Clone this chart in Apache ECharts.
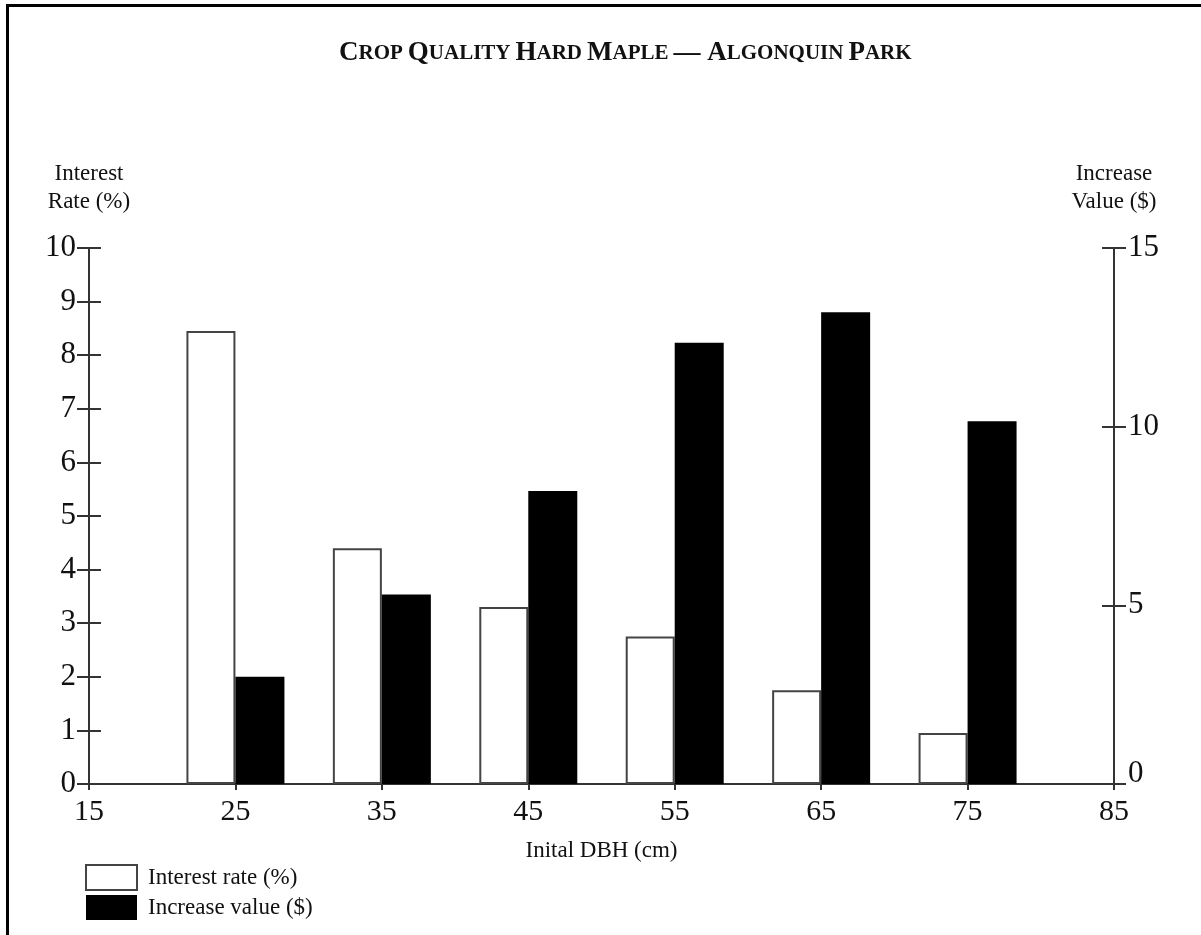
<!DOCTYPE html>
<html>
<head>
<meta charset="utf-8">
<script src="https://cdn.jsdelivr.net/npm/echarts@6/dist/echarts.min.js"></script>
<style>
html,body{margin:0;padding:0;background:#fff;}
#chart{width:1201px;height:935px;}
</style>
</head>
<body>
<div id="chart"></div>
<script>
// ---- data ----
const dbhTicks = [15, 25, 35, 45, 55, 65, 75, 85];
const dbhClasses = [25, 35, 45, 55, 65, 75];
const interestRate = [8.45, 4.4, 3.3, 2.75, 1.75, 0.95];
const increaseValue = [3.0, 5.3, 8.2, 12.35, 13.2, 10.15];
const leftTicks = [0, 1, 2, 3, 4, 5, 6, 7, 8, 9, 10];
const rightTicks = [0, 5, 10, 15];

const FONT = '"Liberation Serif", "DejaVu Serif", serif';
const INK = '#111';
const LINE = '#333';

const chart = echarts.init(document.getElementById('chart'));

const yBase = {
  type: 'value',
  splitLine: { show: false },
  axisLine: { show: true, lineStyle: { color: LINE, width: 2 } },
  axisTick: { show: true, length: 12, lineStyle: { color: LINE, width: 2 } }
};

const option = {
  backgroundColor: '#fff',
  animation: false,
  title: {
    left: 334,
    top: 35,
    text: '{c|C}{s|ROP} {c|Q}{s|UALITY} {c|H}{s|ARD} {c|M}{s|APLE} {c|— A}{s|LGONQUIN} {c|P}{s|ARK}',
    textStyle: {
      rich: {
        c: { fontFamily: FONT, fontSize: 27, color: INK },
        s: { fontFamily: FONT, fontSize: 21, color: INK }
      }
    }
  },
  grid: { left: 89, right: 87, top: 248, bottom: 151 },
  legend: {
    orient: 'vertical',
    left: 85,
    top: 864,
    padding: 0,
    itemWidth: 51,
    itemHeight: 25,
    itemGap: 4,
    icon: 'rect',
    textStyle: { fontFamily: FONT, fontSize: 23, color: INK, padding: [0, 0, 0, 6] },
    data: ['Interest rate (%)', 'Increase value ($)']
  },
  xAxis: {
    type: 'value',
    min: dbhTicks[0],
    max: dbhTicks[dbhTicks.length - 1],
    interval: 10,
    name: 'Inital DBH (cm)',
    nameLocation: 'middle',
    nameGap: 55,
    nameTextStyle: { fontFamily: FONT, fontSize: 23, color: INK },
    splitLine: { show: false },
    axisLine: { show: true, lineStyle: { color: LINE, width: 2 } },
    axisTick: { show: true, length: 6, lineStyle: { color: LINE, width: 2 } },
    axisLabel: { fontFamily: FONT, fontSize: 30, color: INK, margin: 13 }
  },
  yAxis: [
    Object.assign({}, yBase, {
      position: 'left',
      min: leftTicks[0],
      max: leftTicks[leftTicks.length - 1],
      interval: 1,
      offset: 0,
      name: 'Interest\nRate (%)',
      nameLocation: 'end',
      nameGap: 32,
      nameTextStyle: { fontFamily: FONT, fontSize: 23, color: INK, align: 'center', lineHeight: 28 },
      axisTick: { show: true, length: 12, inside: false, lineStyle: { color: LINE, width: 2 } },
      axisLabel: { fontFamily: FONT, fontSize: 31, color: INK, margin: 13 }
    }),
    Object.assign({}, yBase, {
      position: 'right',
      min: rightTicks[0],
      max: rightTicks[rightTicks.length - 1],
      interval: 5,
      offset: 0,
      name: 'Increase\nValue ($)',
      nameLocation: 'end',
      nameGap: 32,
      nameTextStyle: { fontFamily: FONT, fontSize: 23, color: INK, align: 'center', lineHeight: 28 },
      axisTick: { show: true, length: 12, inside: false, lineStyle: { color: LINE, width: 2 } },
      axisLabel: {
        fontFamily: FONT, fontSize: 31, color: INK, margin: 14,
        formatter: function (v) { return v === 0 ? '{z|0}' : String(v); },
        rich: { z: { fontFamily: FONT, fontSize: 31, color: INK, padding: [0, 0, 20, 0] } }
      }
    }),
    Object.assign({}, yBase, {
      position: 'left',
      min: leftTicks[0],
      max: leftTicks[leftTicks.length - 1],
      interval: 1,
      offset: 0,
      axisLine: { show: false },
      axisTick: { show: true, length: 12, inside: true, lineStyle: { color: LINE, width: 2 } },
      axisLabel: { show: false }
    }),
    Object.assign({}, yBase, {
      position: 'right',
      min: rightTicks[0],
      max: rightTicks[rightTicks.length - 1],
      interval: 5,
      offset: 0,
      axisLine: { show: false },
      axisTick: { show: true, length: 12, inside: true, lineStyle: { color: LINE, width: 2 } },
      axisLabel: { show: false }
    })
  ],
  series: [
    {
      name: 'Interest rate (%)',
      type: 'bar',
      yAxisIndex: 0,
      barWidth: 49,
      barGap: '0%',
      itemStyle: { color: '#fff', borderColor: '#444', borderWidth: 2 },
      data: dbhClasses.map((d, i) => [d, interestRate[i]])
    },
    {
      name: 'Increase value ($)',
      type: 'bar',
      yAxisIndex: 1,
      barWidth: 49,
      barGap: '0%',
      itemStyle: { color: '#000' },
      data: dbhClasses.map((d, i) => [d, increaseValue[i]])
    }
  ],
  graphic: [
    { type: 'line', shape: { x1: 6, y1: 5.5, x2: 1201, y2: 5.5 }, style: { stroke: '#000', lineWidth: 3 } },
    { type: 'line', shape: { x1: 7.5, y1: 4, x2: 7.5, y2: 935 }, style: { stroke: '#000', lineWidth: 3 } }
  ]
};

chart.setOption(option);
</script>
</body>
</html>
